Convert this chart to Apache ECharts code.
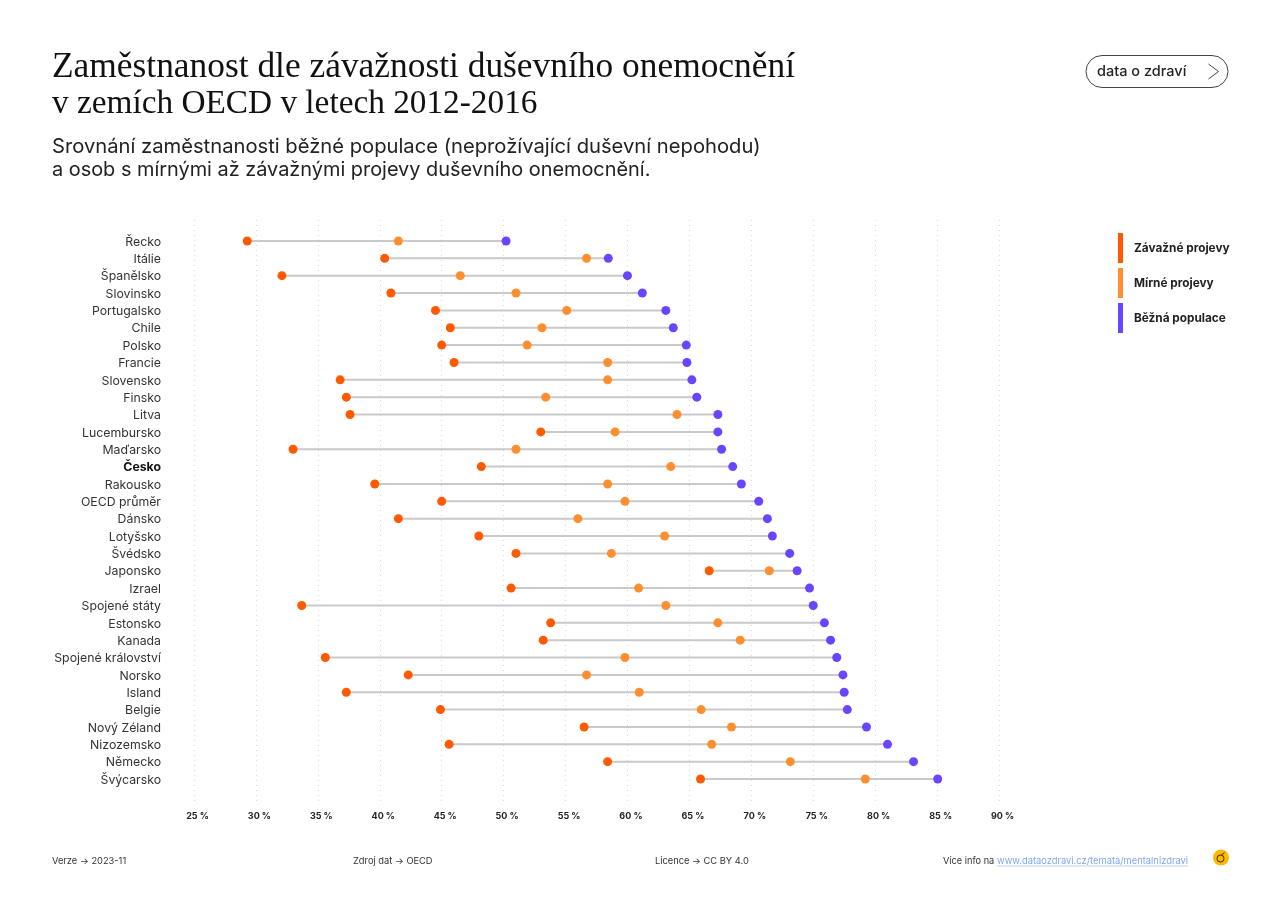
<!DOCTYPE html>
<html>
	<head>
		<meta charset="UTF-8">
		<title>Zaměstnanost dle závažnosti duševního onemocnění</title>
		<script src="https://cdn.jsdelivr.net/npm/echarts@6/dist/echarts.min.js"></script>
		<style>
			html, body { margin: 0; padding: 0; background: #fff; }
			#chart { width: 1280px; height: 905px; }
		</style>
	</head>
	<body>
		<div id="chart"></div>
		<script>
			// data
			var countries = ["Řecko","Itálie","Španělsko","Slovinsko","Portugalsko","Chile","Polsko","Francie","Slovensko","Finsko","Litva","Lucembursko","Maďarsko","Česko","Rakousko","OECD průměr","Dánsko","Lotyšsko","Švédsko","Japonsko","Izrael","Spojené státy","Estonsko","Kanada","Spojené království","Norsko","Island","Belgie","Nový Zéland","Nizozemsko","Německo","Švýcarsko"];
			var severe = [29.3,40.4,32.1,40.9,44.5,45.7,45.0,46.0,36.8,37.3,37.6,53.0,33.0,48.2,39.6,45.0,41.5,48.0,51.0,66.6,50.6,33.7,53.8,53.2,35.6,42.3,37.3,44.9,56.5,45.6,58.4,65.9];
			var mild = [41.5,56.7,46.5,51.0,55.1,53.1,51.9,58.4,58.4,53.4,64.0,59.0,51.0,63.5,58.4,59.8,56.0,63.0,58.7,71.45,60.9,63.1,67.3,69.1,59.8,56.7,60.95,65.95,68.4,66.8,73.15,79.2];
			var general = [50.2,58.45,60.0,61.2,63.1,63.7,64.75,64.8,65.2,65.6,67.3,67.3,67.6,68.5,69.2,70.6,71.3,71.7,73.1,73.7,74.7,75.0,75.9,76.4,76.9,77.4,77.5,77.75,79.3,81.0,83.1,85.05];
			var seriesNames = ["Závažné projevy","Mírné projevy","Běžná populace"];
			var seriesColors = ["#FF5A00","#FF8F2E","#6A45FF"];
			var boldCountry = "Česko";

			var sansFont = "Inter, sans-serif";
			var serifFont = '"Liberation Serif", serif';
			var textColor = "#222";

			function points(values) {
				var out = [];
				for (var i = 0; i < values.length; i++) {
					out.push([values[i], countries[i]]);
				}
				return out;
			}

			function dotSeries(name, values, color) {
				return {
					name: name,
					type: 'scatter',
					xAxisIndex: 0,
					yAxisIndex: 0,
					symbolSize: 9,
					z: 3,
					itemStyle: {color: color, opacity: 1},
					data: points(values)
				};
			}

			// spojnice od nejnizsi po nejvyssi hodnotu
			var ranges = [];
			for (var i = 0; i < countries.length; i++) {
				ranges.push([Math.min(severe[i], mild[i], general[i]), Math.max(severe[i], mild[i], general[i]), countries[i]]);
			}

			function renderRange(params, api) {
				var from = api.coord([api.value(0), api.value(2)]);
				var to = api.coord([api.value(1), api.value(2)]);
				return {
					type: 'line',
					shape: {x1: from[0], y1: from[1], x2: to[0], y2: to[1]},
					style: {stroke: '#C9C9C9', lineWidth: 2}
				};
			}

			function staticText(x, y, text, size, extra) {
				var style = {x: x, y: y, text: text, fontSize: size, fontFamily: sansFont, fill: textColor, textVerticalAlign: 'middle'};
				for (var k in extra) { style[k] = extra[k]; }
				return {type: 'text', silent: true, style: style};
			}

			var legendText = {fontFamily: sansFont, fontSize: 11.8, fontWeight: 'bold', color: textColor};

			var option = {
				animation: false,
				backgroundColor: '#fff',
				legend: {
					orient: 'vertical',
					left: 1118,
					top: 233,
					padding: 0,
					itemWidth: 5,
					itemHeight: 30,
					itemGap: 5,
					icon: 'rect',
					textStyle: legendText,
					// popisky nejsou v referenci presne na stredu pruhu
					data: [
						{name: seriesNames[0], textStyle: {padding: [0, 0, 0, 6]}},
						{name: seriesNames[1], textStyle: {padding: [0, 0, 1, 6]}},
						{name: seriesNames[2], textStyle: {padding: [0, 0, 5, 6]}}
					]
				},
				grid: [
					{left: 194, right: 281, top: 232.3, bottom: 117.3},
					{left: 194, right: 281, top: 220, bottom: 103}
				],
				xAxis: [
					{
						type: 'value', gridIndex: 0, min: 25, max: 90, interval: 5,
						axisLine: {show: false}, axisTick: {show: false}, axisLabel: {show: false}, splitLine: {show: false}
					},
					{
						type: 'value', gridIndex: 1, min: 25, max: 90, interval: 5,
						axisLine: {show: false}, axisTick: {show: false},
						axisLabel: {
							margin: 10, padding: [0, 0, 0, 7], color: textColor,
							fontFamily: sansFont, fontSize: 9, fontWeight: 'bold',
							formatter: '{value} %'
						},
						splitLine: {show: true, lineStyle: {type: [1, 4], color: '#D8D8D8', width: 1}}
					}
				],
				yAxis: [
					{
						type: 'category', gridIndex: 0, data: countries, inverse: true,
						axisLine: {show: false}, axisTick: {show: false}, splitLine: {show: false},
						axisLabel: {
							margin: 33, interval: 0, color: '#333', fontFamily: sansFont, fontSize: 12.3, padding: [2, 0, 0, 0],
							formatter: function(value) {
								return value === boldCountry ? '{b|' + value + '}' : value;
							},
							rich: {b: {fontFamily: sansFont, fontSize: 12.3, fontWeight: 'bold', color: '#111'}}
						}
					},
					{type: 'value', gridIndex: 1, show: false}
				],
				series: [
					{
						type: 'custom',
						xAxisIndex: 0,
						yAxisIndex: 0,
						z: 1,
						silent: true,
						encode: {x: [0, 1], y: 2},
						renderItem: renderRange,
						data: ranges
					},
					dotSeries(seriesNames[0], severe, seriesColors[0]),
					dotSeries(seriesNames[1], mild, seriesColors[1]),
					dotSeries(seriesNames[2], general, seriesColors[2])
				],
				graphic: [
					staticText(52, 68, 'Zaměstnanost dle závažnosti duševního onemocnění', 35.4, {fontFamily: serifFont, fill: '#111'}),
					staticText(52, 104, 'v zemích OECD v letech 2012-2016', 33.3, {fontFamily: serifFont, fill: '#111'}),
					staticText(52, 147, 'Srovnání zaměstnanosti běžné populace (neprožívající duševní nepohodu)', 20.2),
					staticText(52, 170, 'a osob s mírnými až závažnými projevy duševního onemocnění.', 19.9),
					// tlacitko
					{type: 'rect', silent: true, shape: {x: 1086, y: 55.5, width: 142, height: 32, r: 16}, style: {fill: '#fff', stroke: '#444', lineWidth: 1}},
					staticText(1097, 71.5, 'data o zdraví', 14.5, {fontWeight: 500}),
					{type: 'polyline', silent: true, shape: {points: [[1208.5, 64], [1218.5, 71.5], [1208.5, 79]]}, style: {fill: 'none', stroke: '#444', lineWidth: 1}},
					// paticka
					staticText(52, 861, 'Verze → 2023-11', 9.3, {fill: '#333'}),
					staticText(353, 861, 'Zdroj dat → OECD', 9.3, {fill: '#333'}),
					staticText(655, 861, 'Licence → CC BY 4.0', 9.3, {fill: '#333'}),
					staticText(943, 861, 'Více info na', 9.2, {fill: '#333'}),
					staticText(997, 861, 'www.dataozdravi.cz/temata/mentalnizdravi', 9.35, {fill: '#7FA6F5'}),
					{type: 'line', silent: true, shape: {x1: 997, y1: 866, x2: 1188, y2: 866}, style: {stroke: '#BFD3FA', lineWidth: 1}},
					// logo
					{type: 'circle', silent: true, shape: {cx: 1221, cy: 857.5, r: 8}, style: {fill: '#FFB800'}},
					{type: 'circle', silent: true, shape: {cx: 1220.5, cy: 858.5, r: 3.5}, style: {fill: 'none', stroke: '#3A2A00', lineWidth: 1}},
					{type: 'line', silent: true, shape: {x1: 1221.5, y1: 855, x2: 1224.5, y2: 852.5}, style: {stroke: '#3A2A00', lineWidth: 1}}
				]
			};

			var myChart = echarts.init(document.getElementById('chart'), null, {renderer: 'canvas'});
			myChart.setOption(option, true);
		</script>
	</body>
</html>
